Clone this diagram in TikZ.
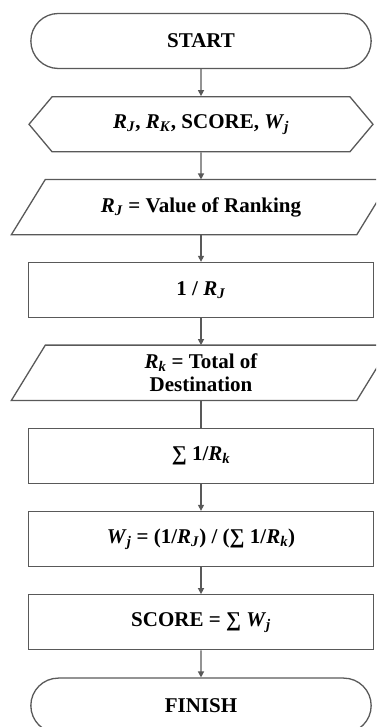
\documentclass[tikz,border=0pt]{standalone}
\usepackage{fontspec}
\setmainfont{Liberation Serif}
\usepackage{tikz}
\usetikzlibrary{shapes.misc, shapes.symbols, arrows.meta, positioning}
\newcommand{\vsub}[2]{\textit{#1}\textsubscript{\textit{#2}}}

\begin{document}
\begin{tikzpicture}[
  x=1pt, y=1pt,
  node distance=27pt,
  every node/.style={font=\fontsize{21}{23}\selectfont\bfseries, text=black},
  term/.style={rounded rectangle, draw=black!65, line width=1.3pt,
               minimum width=347pt, minimum height=55pt},
  inbox/.style={signal, signal to=west and east, signal pointer angle=100,
                draw=black!65, line width=1.3pt,
                minimum width=344pt, minimum height=55pt},
  iobox/.style={rectangle, align=center, inner sep=0pt,
                minimum width=345pt, minimum height=55pt},
  procbox/.style={rectangle, draw=black!65, line width=1.3pt,
                  minimum width=345pt, minimum height=55pt},
  arrow/.style={-{Triangle[length=6pt, width=6pt]}, draw=black!65, line width=1.3pt},
  link/.style={draw=black!65, line width=1.3pt},
]
\useasboundingbox (0,0) rectangle (376,727);
\clip (0,0) rectangle (376,727);

% Main column
\node[term] (start) at (201,686) {START};
\node[inbox, below=of start] (vars) {\vsub{R}{J}, \vsub{R}{K}, SCORE, \vsub{W}{j}};
\node[iobox, below=of vars] (rank) {\vsub{R}{J} = Value of Ranking};
\node[procbox, below=of rank] (inv) {1 / \vsub{R}{J}};
\node[iobox, below=of inv] (dest) {\vsub{R}{k} = Total of\\Destination};
\node[procbox, below=of dest] (sum) {∑ 1/\vsub{R}{k}};
\node[procbox, below=of sum] (weight) {\vsub{W}{j} = (1/\vsub{R}{J}) / (∑ 1/\vsub{R}{k})};
\node[procbox, below=of weight] (score) {SCORE = ∑ \vsub{W}{j}};
\node[term, below=of score] (finish) {FINISH};

% Parallelograms round the input nodes
\foreach \n in {rank, dest}
  \draw[link, line join=miter] ([xshift=-17pt]\n.south west) -- ([xshift=-17pt]\n.south east)
    -- ([xshift=17pt]\n.north east) -- ([xshift=17pt]\n.north west) -- cycle;

% Arrows
\draw[arrow] (start) -- (vars);
\draw[arrow] (vars) -- (rank);
\draw[arrow] (rank) -- (inv);
\draw[arrow] (inv) -- (dest);
\draw[link] (dest) -- (sum);
\draw[arrow] (sum) -- (weight);
\draw[arrow] (weight) -- (score);
\draw[arrow] (score) -- (finish);

\end{tikzpicture}
\end{document}
